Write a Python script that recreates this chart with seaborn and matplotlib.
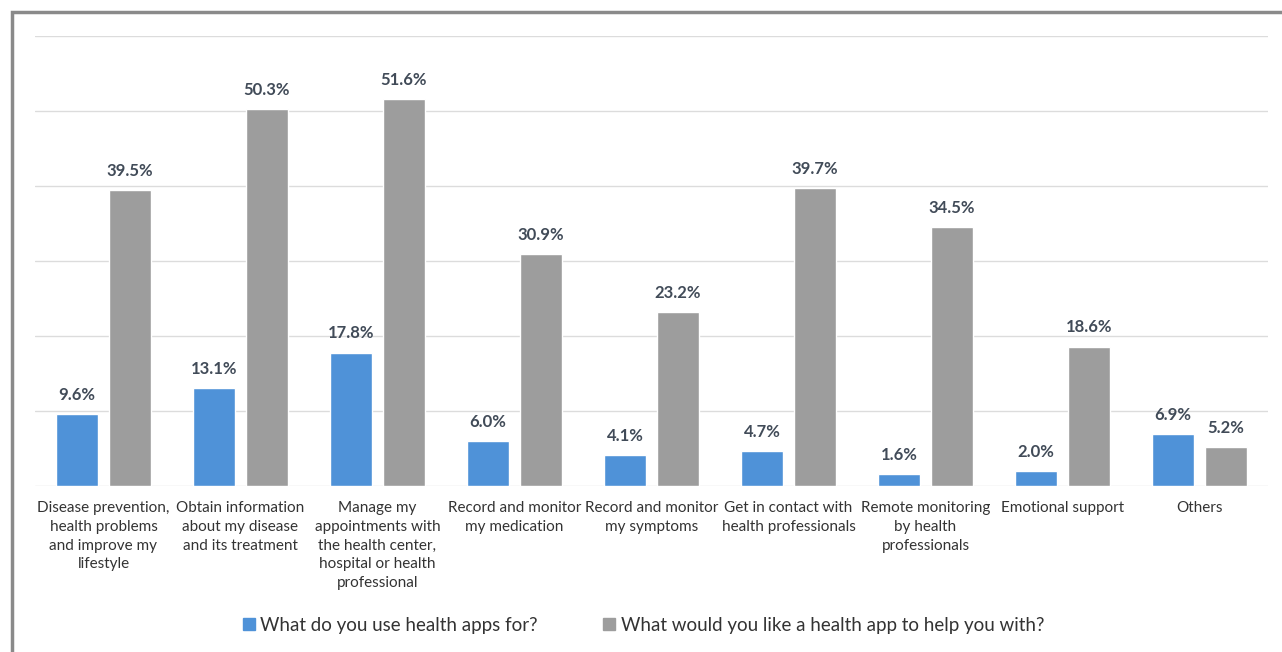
import matplotlib
matplotlib.use("Agg")
import matplotlib.pyplot as plt
import seaborn as sns
import pandas as pd
from matplotlib.patches import Rectangle
from matplotlib.lines import Line2D

categories = [
    "Disease prevention,\nhealth problems\nand improve my\nlifestyle",
    "Obtain information\nabout my disease\nand its treatment",
    "Manage my\nappointments with\nthe health center,\nhospital or health\nprofessional",
    "Record and monitor\nmy medication",
    "Record and monitor\nmy symptoms",
    "Get in contact with\nhealth professionals",
    "Remote monitoring\nby health\nprofessionals",
    "Emotional support",
    "Others",
]
series_names = ["What do you use health apps for?",
                "What would you like a health app to help you with?"]
use_values = [9.6, 13.1, 17.8, 6.0, 4.1, 4.7, 1.6, 2.0, 6.9]
like_values = [39.5, 50.3, 51.6, 30.9, 23.2, 39.7, 34.5, 18.6, 5.2]
colors = ["#4f92d8", "#9d9d9d"]

df = pd.DataFrame({
    "category": categories * 2,
    "series": [series_names[0]] * len(categories) + [series_names[1]] * len(categories),
    "value": use_values + like_values,
})

sns.set_theme(style="white")
plt.rcParams["font.family"] = ["Lato", "DejaVu Sans"]

fig = plt.figure(figsize=(12.82, 6.52), dpi=100)
ax = fig.add_axes([35 / 1282, 1 - 486 / 652, (1268 - 35) / 1282, (486 - 36) / 652])

sns.barplot(data=df, x="category", y="value", hue="series", order=categories,
            hue_order=series_names, palette=colors, width=0.77, gap=0.2,
            ax=ax, legend=False, saturation=1)

for cont in ax.containers:
    ax.bar_label(cont, fmt="%.1f%%", padding=8, fontsize=12, fontweight="bold",
                 color="#414b58")

ax.set_ylim(0, 60)
ax.set_xlim(-0.5, len(categories) - 0.5)
ax.set_yticks(range(0, 61, 10))
ax.yaxis.grid(True, color="#dcdcdc", linewidth=1)
ax.set_axisbelow(True)
ax.tick_params(axis="y", left=False, labelleft=False)
ax.tick_params(axis="x", length=0, pad=11, labelsize=11, labelcolor="#333333")
for lbl in ax.get_xticklabels():
    lbl.set_linespacing(1.42)
for s in ax.spines.values():
    s.set_visible(False)
ax.set_xlabel("")
ax.set_ylabel("")

handles = [Line2D([], [], marker="s", linestyle="", markersize=9, color=c) for c in colors]
fig.legend(handles, series_names, loc="center", bbox_to_anchor=(0.5, 1 - 625 / 652),
           ncol=2, frameon=False, fontsize=13.5, handletextpad=0.0, columnspacing=3.2,
           handlelength=1.2, labelcolor="#333333")

# outer frame
fig.patches.append(Rectangle((12 / 1282, -0.1), 1.2, 1 - 12 / 652 + 0.1,
                             transform=fig.transFigure, fill=False,
                             edgecolor="#8a8a8a", linewidth=2.5))

fig.savefig("out.png", dpi=100, facecolor="white")
